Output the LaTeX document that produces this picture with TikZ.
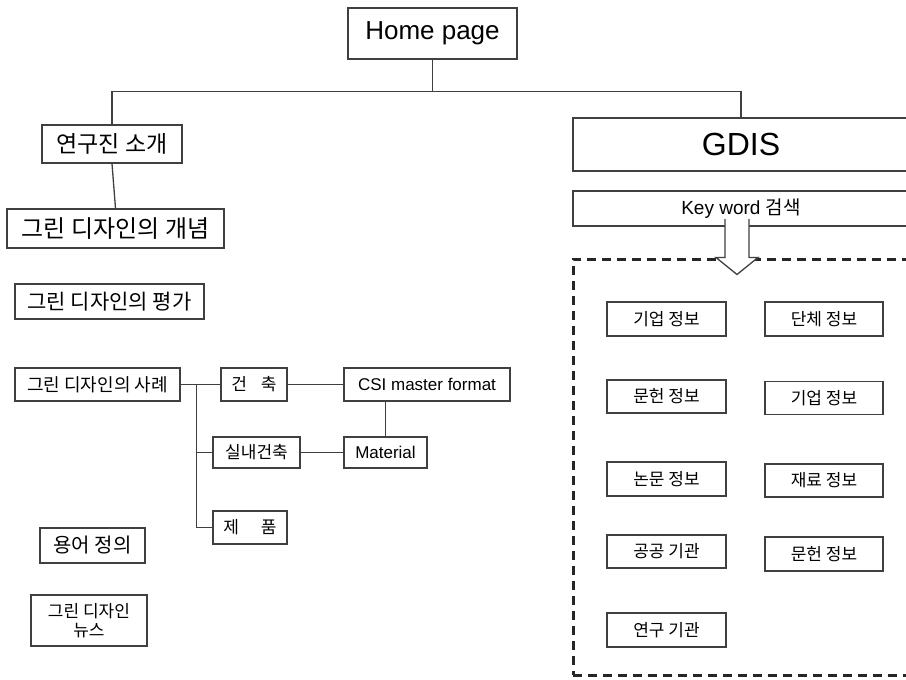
\documentclass[tikz,border=0pt]{standalone}
\usepackage{fontspec}
\setmainfont{Liberation Sans}
\newfontfamily\kr{Noto Sans CJK KR}
\usepackage{tikz}
\usetikzlibrary{positioning,calc}

\begin{document}
\begin{tikzpicture}[
    x=1pt, y=-1pt,
    box/.style={rectangle, draw=black!75, line width=1.3pt, inner sep=0pt, align=center, fill=white},
    sbox/.style={box, font=\kr\fontsize{17}{19}\selectfont},
    line/.style={draw=black!75, line width=1.3pt}
]
\useasboundingbox (0,0) rectangle (906,680);
\clip (0,0) rectangle (906,680);

% Top
\node[box, minimum width=169pt, minimum height=51pt, font=\fontsize{26}{29}\selectfont] (home) at (432.5,33.5) {Home page};

% Left column
\node[box, minimum width=140pt, minimum height=38pt, font=\kr\fontsize{23}{26}\selectfont] (intro) at (112,144) {연구진 소개};
\node[box, minimum width=217pt, minimum height=39pt, font=\kr\fontsize{24}{27}\selectfont] (concept) at (115.5,228.5) {그린 디자인의 개념};
\node[box, minimum width=189pt, minimum height=35pt, font=\kr\fontsize{21}{24}\selectfont] (evaluation) at (109.5,301.5) {그린 디자인의 평가};

% Cases
\node[box, minimum width=165pt, minimum height=33pt, font=\kr\fontsize{18}{21}\selectfont] (cases) at (97.5,384.5) {그린 디자인의 사례};
\node[box, minimum width=66pt, minimum height=33pt, font=\kr\fontsize{17}{20}\selectfont] (arch) at (254,384.5) {건\hspace{14pt}축};
\node[box, minimum width=166pt, minimum height=33pt, font=\fontsize{17}{20}\selectfont] (csi) at (427,384.5) {CSI master format};
\node[box, minimum width=87pt, minimum height=31pt, font=\kr\fontsize{17}{20}\selectfont] (interior) at (256.5,452.5) {실내건축};
\node[box, minimum width=83pt, minimum height=31pt, font=\fontsize{17}{20}\selectfont] (material) at (385.5,452.5) {Material};
\node[box, minimum width=74pt, minimum height=33pt, font=\kr\fontsize{17}{20}\selectfont] (product) at (250,527.5) {제\hspace{22pt}품};

\node[box, minimum width=105pt, minimum height=35pt, font=\kr\fontsize{20}{23}\selectfont] (terms) at (92.5,545.5) {용어 정의};
\node[box, minimum width=116pt, minimum height=51pt, font=\kr\fontsize{17}{19}\selectfont] (news) at (89,620.5) {그린 디자인\\뉴스};

% GDIS
\node[box, line width=2.5pt, minimum width=336pt, minimum height=53pt, font=\fontsize{32}{35}\selectfont] (gdis) at (741,144.5) {GDIS};
\node[box, line width=2pt, minimum width=336pt, minimum height=35pt, font=\fontsize{19}{22}\selectfont] (keyword) at (741,208.5) {Key word {\kr 검색}};
\node[rectangle, draw=black!85, line width=3pt, dash pattern=on 9pt off 6pt, minimum width=336pt, minimum height=416pt] (results) at (741,467) {};

% Result boxes
\node[sbox, minimum width=119pt, minimum height=34pt] (company) at (666.5,319) {기업 정보};
\node[sbox, minimum width=118pt, minimum height=34pt] (group) at (824,319) {단체 정보};
\node[sbox, minimum width=119pt, minimum height=33pt] (literature) at (666.5,396.5) {문헌 정보};
\node[sbox, minimum width=118pt, minimum height=33pt] (company2) at (824,398) {기업 정보};
\node[sbox, minimum width=119pt, minimum height=34pt] (paper) at (666.5,479) {논문 정보};
\node[sbox, minimum width=118pt, minimum height=33pt] (materials) at (824,480.5) {재료 정보};
\node[sbox, minimum width=119pt, minimum height=33pt] (public) at (666.5,551.5) {공공 기관};
\node[sbox, minimum width=118pt, minimum height=34pt] (literature2) at (824,554) {문헌 정보};
\node[sbox, minimum width=119pt, minimum height=34pt] (institute) at (666.5,630) {연구 기관};

% Connectors
\draw[line] (home.south) -- ++(0,32) coordinate (hbus);
\draw[line] (hbus) -| (intro.north);
\draw[line] (hbus) -| (gdis.north);
\draw[line] (intro.south) -- (concept.north);

\draw[line] (cases.east) -- ++(16,0) coordinate (trunk);
\draw[line] (trunk) -- (arch.west);
\draw[line] (trunk) |- (interior.west);
\draw[line] (trunk) |- (product.west);
\draw[line] (arch.east) -- (csi.west);
\draw[line] (interior.east) -- (material.west);
\draw[line] (csi.south -| material.north) -- (material.north);

% Hollow arrow
\coordinate (atop) at ($(keyword.south)+(-4,-8)$);
\coordinate (abase) at (atop |- results.north);
\filldraw[line, fill=white, line width=1.3pt]
  ($(atop)+(-12,0)$) -- ($(abase)+(-12,0)$) -- ($(abase)+(-21,0)$) -- ($(abase)+(0,17)$)
  -- ($(abase)+(21,0)$) -- ($(abase)+(12,0)$) -- ($(atop)+(12,0)$);
\end{tikzpicture}
\end{document}
